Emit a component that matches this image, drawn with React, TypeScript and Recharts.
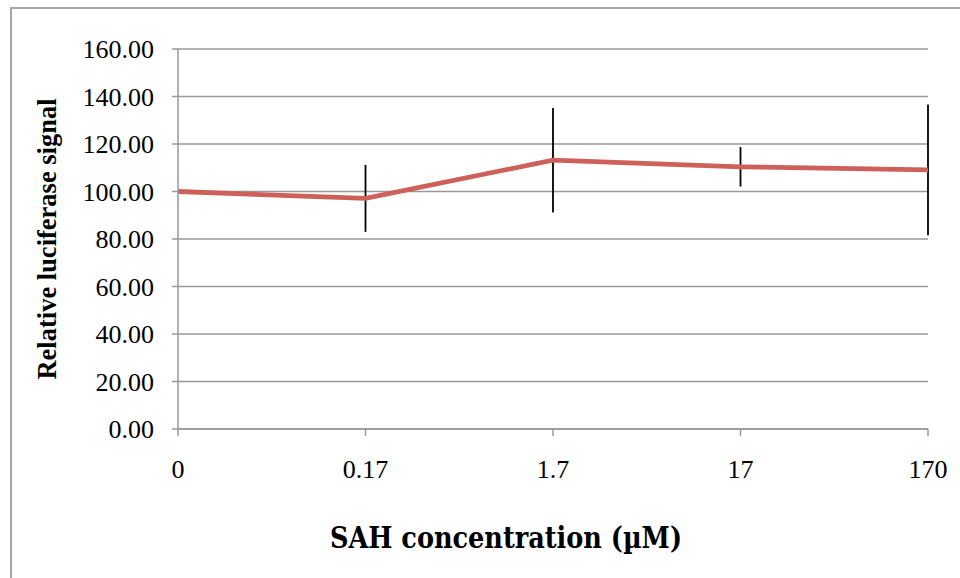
import React from "react";
import { LineChart, Line, XAxis, YAxis, CartesianGrid, ErrorBar, Label } from "recharts";

// SAH concentrations (µM), shown as category labels
const concentrations = ["0", "0.17", "1.7", "17", "170"];
// Mean relative luciferase signal at each concentration
const signal = [100.0, 97.1, 113.2, 110.4, 109.1];
// Error (±) for each mean
const errors = [0, 14.1, 22.0, 8.3, 27.5];
// Y-axis tick values
const yTicks = [0, 20, 40, 60, 80, 100, 120, 140, 160];

const data = concentrations.map((c, i) => ({
  conc: c,
  signal: signal[i],
  err: errors[i],
}));

const serif = '"Liberation Serif", "Times New Roman", serif';
const gridColor = "#999999";

export default function App() {
  return (
    <div
      style={{
        position: "absolute",
        left: 0,
        top: 0,
        width: 960,
        height: 578,
        background: "#ffffff",
        overflow: "hidden",
      }}
    >
      {/* chart frame */}
      <div
        style={{
          position: "absolute",
          left: 10,
          top: 7,
          width: 1000,
          height: 700,
          borderLeft: "2px solid #A6A6A6",
          borderTop: "2px solid #A6A6A6",
          boxSizing: "border-box",
        }}
      />
      <div style={{ position: "absolute", left: 0, top: 0 }}>
        <LineChart
          width={960}
          height={578}
          data={data}
          margin={{ top: 49, right: 32, bottom: 89, left: 0 }}
        >
          <CartesianGrid
            horizontal={true}
            vertical={false}
            stroke={gridColor}
            strokeWidth={1.5}
          />
          <XAxis
            dataKey="conc"
            height={60}
            interval={0}
            tickSize={7}
            tickMargin={24}
            stroke={gridColor}
            strokeWidth={1.5}
            tick={{ fill: "#000", fontSize: 26, fontFamily: serif }}
            tickLine={{ stroke: gridColor, strokeWidth: 1.5 }}
          >
            <Label
              content={() => (
                <text
                  x={506}
                  y={548}
                  textAnchor="middle"
                  fontFamily='"DejaVu Serif Condensed", "DejaVu Serif", serif'
                  fontWeight="bold"
                  fontSize={30}
                  fill="#000"
                  textLength={352}
                  lengthAdjust="spacingAndGlyphs"
                >
                  SAH concentration (µM)
                </text>
              )}
            />
          </XAxis>
          <YAxis
            width={178}
            domain={[0, 160]}
            ticks={yTicks}
            interval={0}
            tickSize={6}
            tickMargin={18}
            stroke={gridColor}
            strokeWidth={1.5}
            tickFormatter={(v: number) => v.toFixed(2)}
            tick={{ fill: "#000", fontSize: 26, fontFamily: serif }}
            tickLine={{ stroke: gridColor, strokeWidth: 1.5 }}
          >
            <Label
              content={() => (
                <text
                  x={0}
                  y={0}
                  transform="translate(56, 239) rotate(-90)"
                  textAnchor="middle"
                  fontFamily={serif}
                  fontWeight="bold"
                  fontSize={26.5}
                  fill="#000"
                >
                  Relative luciferase signal
                </text>
              )}
            />
          </YAxis>
          <Line
            type="linear"
            dataKey="signal"
            stroke="#CD615A"
            strokeWidth={4.8}
            dot={false}
            activeDot={false}
            isAnimationActive={false}
          >
            <ErrorBar
              dataKey="err"
              width={0}
              stroke="#000000"
              strokeWidth={1.8}
              direction="y"
              isAnimationActive={false}
            />
          </Line>
        </LineChart>
      </div>
    </div>
  );
}
